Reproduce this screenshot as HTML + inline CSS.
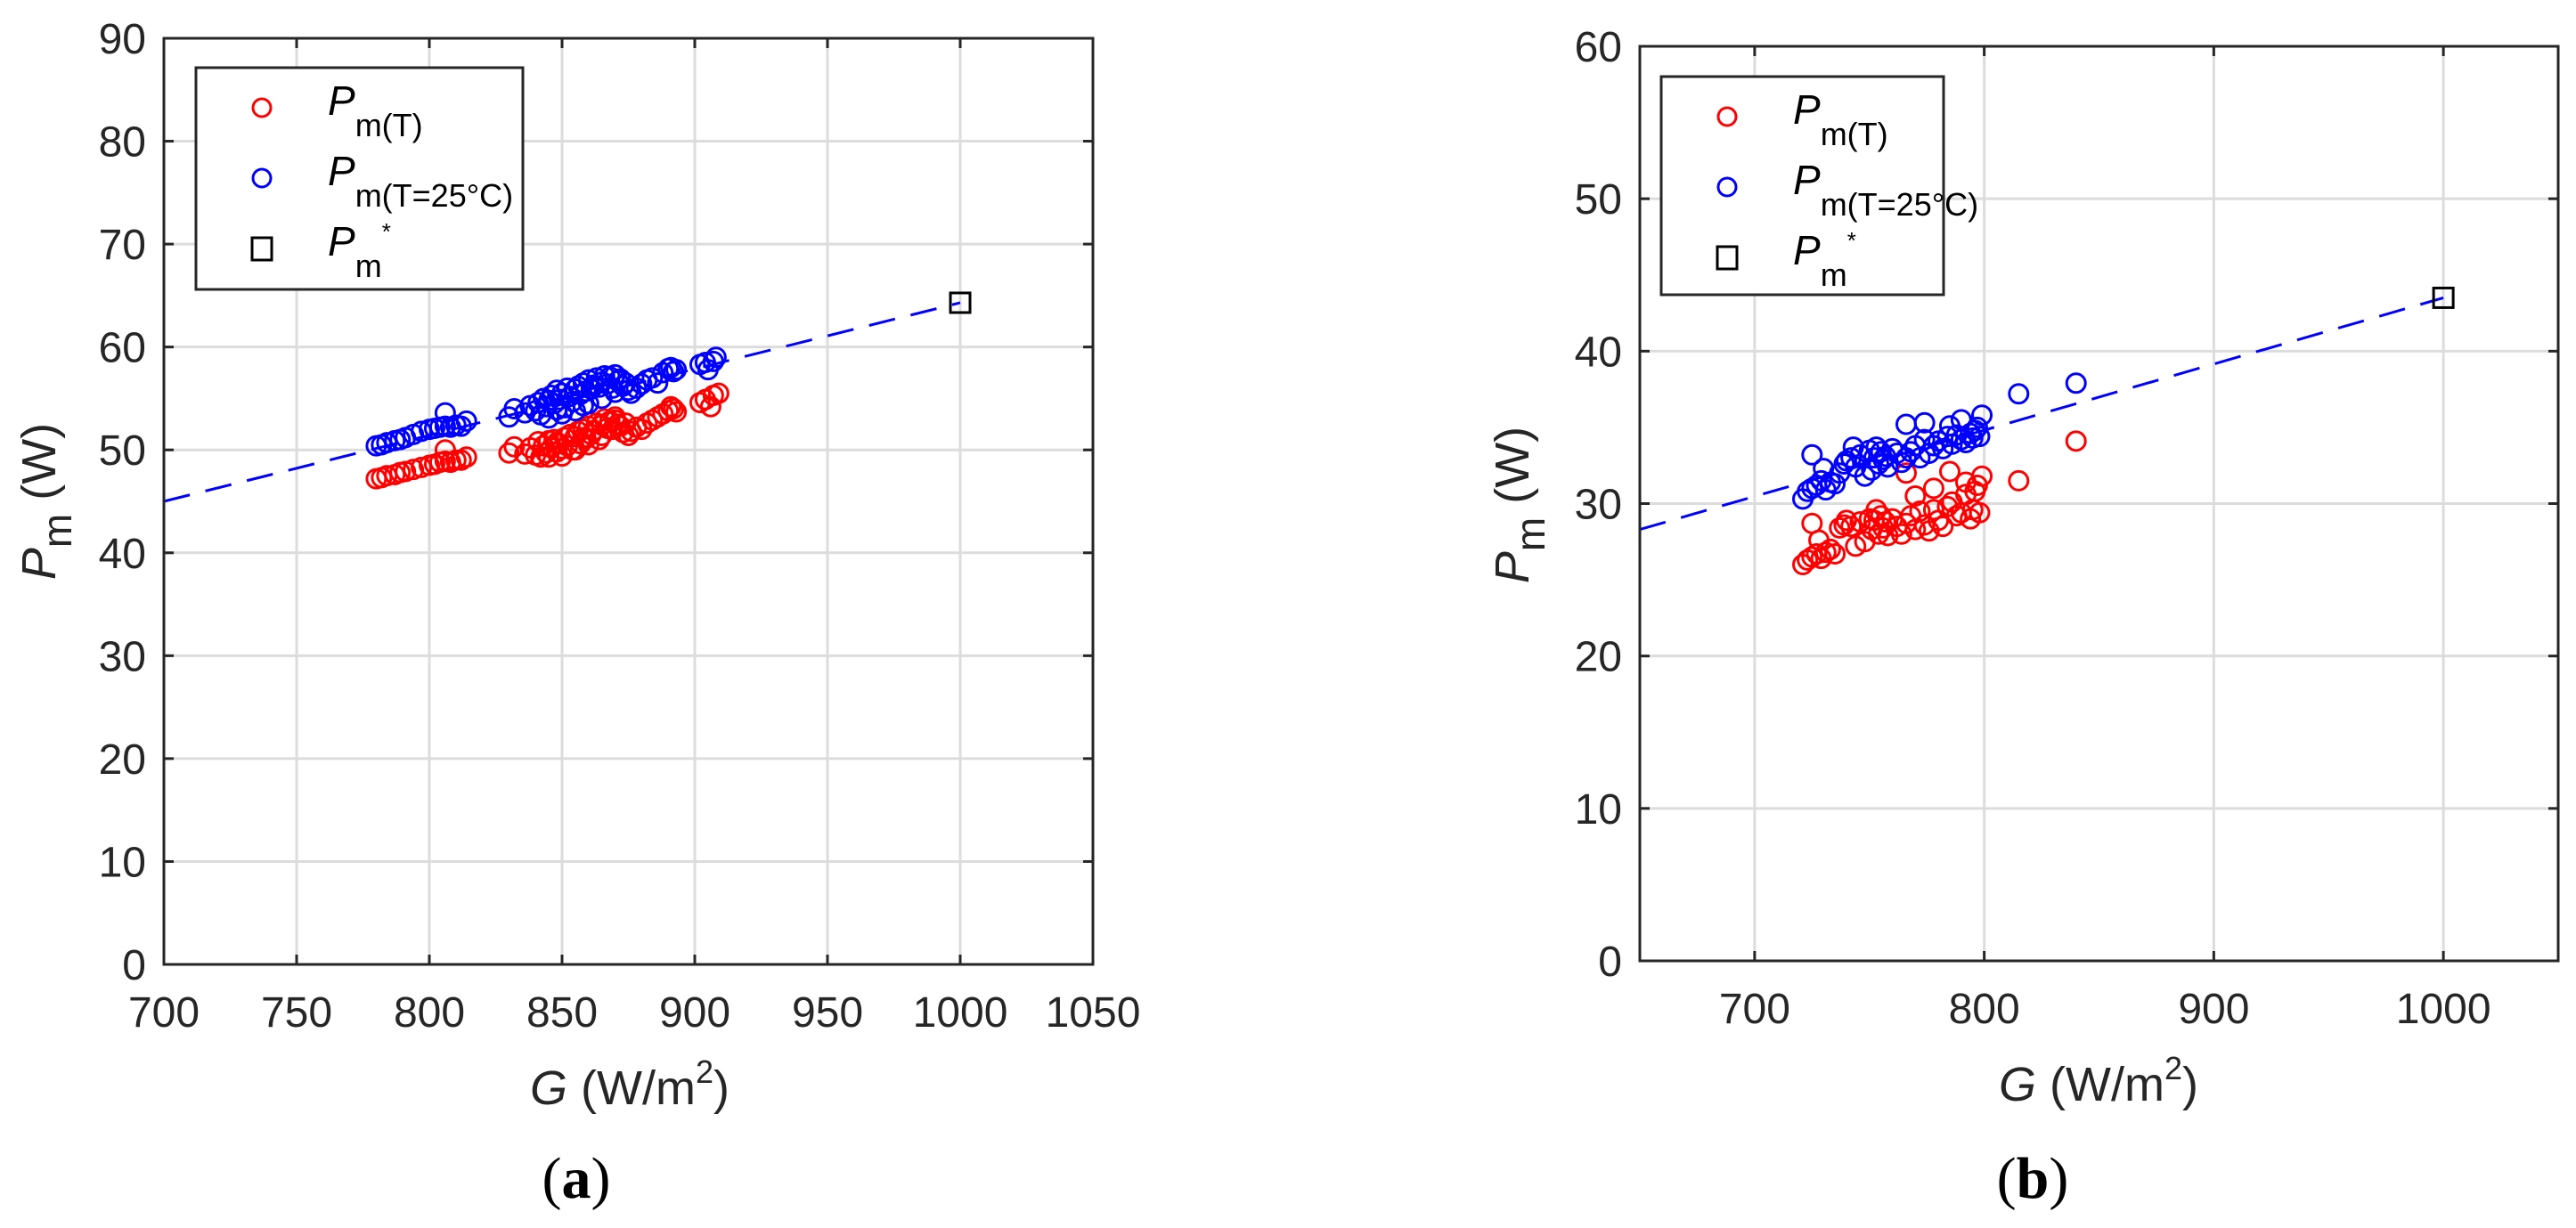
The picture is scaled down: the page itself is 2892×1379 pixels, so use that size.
<!DOCTYPE html>
<html><head><meta charset="utf-8"><style>
html,body{margin:0;padding:0;background:#fff;}
svg{display:block;font-family:"Liberation Sans",Arial,sans-serif;}
</style></head><body>
<svg id="fig" width="2892" height="1379" viewBox="0 0 2892 1379" xmlns="http://www.w3.org/2000/svg"></svg>
<script>
// Panel (a) data
const aXTicks = [700,750,800,850,900,950,1000,1050];
const aYTicks = [0,10,20,30,40,50,60,70,80,90];
const aRedG = [780,782,784,787,789,791,794,797,800,802,804,806,808,810,812,814,806,
830,832,836,838,840,841,842,843,844,845,846,847,848,849,850,851,852,853,854,855,856,857,858,859,860,861,862,863,864,865,866,867,868,869,870,871,872,873,874,875,876,878,880,882,884,886,888,890,891,892,893,850,855,860,845,865,870,848,858,
902,904,906,907,909];
const aRedP = [47.2,47.3,47.5,47.6,47.8,47.9,48.1,48.3,48.5,48.6,48.8,48.9,48.8,49.0,49.0,49.3,50.0,
49.7,50.3,49.6,50.2,49.5,50.8,49.3,50.4,49.7,50.9,50.2,51.0,49.8,50.6,50.1,51.2,50.4,51.5,50.0,51.3,51.8,50.6,52.0,51.1,52.3,51.5,51.9,52.6,51.0,52.4,53.0,52.1,52.8,52.0,53.2,52.5,52.3,51.7,52.6,51.4,51.8,52.2,52.0,52.6,52.9,53.2,53.5,53.8,54.2,54.0,53.7,49.4,50.0,50.5,49.3,51.4,52.9,50.7,51.2,
54.6,54.9,54.2,55.3,55.5];
const aBlueG = [780,782,784,787,789,791,794,797,800,802,804,806,808,810,812,814,806,
830,832,836,838,840,841,842,843,844,845,846,847,848,849,850,851,852,853,854,855,856,857,858,859,860,861,862,863,864,865,866,867,868,869,870,871,872,873,874,875,876,878,880,882,884,886,888,890,891,892,893,850,855,860,845,865,870,848,858,
902,904,905,907,908];
const aBlueP = [50.4,50.5,50.7,50.9,51.0,51.2,51.5,51.8,52.0,52.1,52.2,52.3,52.2,52.4,52.3,52.8,53.6,
53.2,54.0,53.6,54.3,53.8,54.6,53.4,55.0,54.2,54.8,55.3,54.5,55.8,54.9,55.5,54.1,56.0,55.2,54.7,55.9,56.2,55.4,56.5,55.7,56.8,55.9,56.3,57.0,56.1,56.6,57.2,56.4,57.1,56.0,57.3,56.7,56.9,56.2,56.5,55.8,55.5,56.0,56.4,56.8,57.0,56.5,57.5,57.9,58.0,57.6,57.8,53.5,53.8,54.5,53.1,55.0,55.6,53.9,54.3,
58.3,58.5,57.8,58.6,59.0];
const aStar = [1000, 64.3];
const aFit = [[700,45.0],[1000,64.3]];

// Panel (b) data
const bXTicks = [700,800,900,1000];
const bYTicks = [0,10,20,30,40,50,60];
const bBlueG = [721,723,725,727,729,731,733,735,737,739,740,742,744,746,748,750,751,752,753,754,755,756,757,758,760,762,764,766,768,770,772,774,776,778,780,782,784,786,788,790,792,794,795,796,797,798,799,725,730,743,766,774,785,790,815,840];
const bBlueP = [30.3,30.8,31.0,31.2,31.5,30.9,31.4,31.3,32.0,32.6,32.8,33.0,32.4,33.2,31.8,33.5,32.2,33.0,33.7,32.6,33.4,32.9,33.1,32.4,33.6,33.3,32.7,33.0,33.4,33.8,33.0,34.2,33.3,33.8,34.1,33.6,34.4,33.9,34.5,34.2,34.0,34.6,34.3,34.8,35.0,34.4,35.8,33.2,32.3,33.7,35.2,35.3,35.1,35.5,37.2,37.9];
const bRedG = [721,723,725,727,729,731,733,735,737,739,740,742,744,746,748,750,751,752,753,754,755,756,757,758,760,762,764,766,768,770,772,774,776,778,780,782,784,786,788,790,792,794,795,796,797,798,799,725,728,766,770,778,785,792,815,840];
const bRedP = [26.0,26.3,26.5,26.7,26.4,26.8,27.0,26.7,28.4,28.6,28.9,28.5,27.2,28.8,27.5,29.0,28.3,28.9,29.6,28.0,29.2,28.4,28.8,27.9,29.0,28.5,28.0,28.7,29.2,28.3,29.5,28.6,28.2,29.6,28.9,28.5,29.8,30.1,29.2,29.4,30.6,29.0,29.6,30.8,31.2,29.4,31.8,28.7,27.6,32.0,30.5,31.0,32.1,31.4,31.5,34.1];
const bStar = [1000, 43.5];
const bFit = [[650,28.3],[1000,43.5]];

const NS = "http://www.w3.org/2000/svg";
const svg = document.getElementById('fig');
function mk(tag, attrs, parent){
  const e = document.createElementNS(NS, tag);
  for (const k in attrs) e.setAttribute(k, attrs[k]);
  (parent||svg).appendChild(e);
  return e;
}

function panel(p){
  const g = mk('g', {});
  
  
  const sx = v => p.L + (v - p.xmin) / (p.xmax - p.xmin) * (p.R - p.L);
  const sy = v => p.B - (v - p.ymin) / (p.ymax - p.ymin) * (p.B - p.T);
  // grid
  p.xt.forEach(t => {
    const l = mk('line', {x1:sx(t), x2:sx(t), y1:p.T, y2:p.B, stroke:'#dcdcdc', 'stroke-width':3}, g);
    
    
  });
  p.yt.forEach(t => {
    const l = mk('line', {x1:p.L, x2:p.R, y1:sy(t), y2:sy(t), stroke:'#dcdcdc', 'stroke-width':3}, g);
    
    
  });
  // fit line
  const fl = mk('line', {x1:sx(p.fit[0][0]), y1:sy(p.fit[0][1]), x2:sx(p.fit[1][0]), y2:sy(p.fit[1][1]), stroke:'#0000ff', 'stroke-width':3, 'stroke-dasharray':'30 18'}, g);
  
  
  // series
  p.red[0].forEach((G,i) => {
    const c = mk('circle', {cx:sx(G), cy:sy(p.red[1][i]), r:10.5, fill:'none', stroke:'#ff0000', 'stroke-width':3}, g);
    
    
  });
  p.blue[0].forEach((G,i) => {
    const c = mk('circle', {cx:sx(G), cy:sy(p.blue[1][i]), r:10.5, fill:'none', stroke:'#0000ff', 'stroke-width':3}, g);
    
    
  });
  const sq = mk('rect', {x:sx(p.star[0])-11, y:sy(p.star[1])-11, width:22, height:22, fill:'none', stroke:'#000', 'stroke-width':3}, g);
  
  
  // axes box
  const box = mk('rect', {x:p.L, y:p.T, width:p.R-p.L, height:p.B-p.T, fill:'none', stroke:'#262626', 'stroke-width':3}, g);
  
  
  // ticks + labels
  p.xt.forEach(t => {
    mk('line', {x1:sx(t), x2:sx(t), y1:p.B, y2:p.B-11, stroke:'#262626', 'stroke-width':3}, g);
    mk('line', {x1:sx(t), x2:sx(t), y1:p.T, y2:p.T+11, stroke:'#262626', 'stroke-width':3}, g);
    const tx = mk('text', {x:sx(t), y:p.B+70, 'text-anchor':'middle', 'font-size':48, fill:'#262626'}, g);
    tx.textContent = t;
    
    
  });
  p.yt.forEach(t => {
    mk('line', {x1:p.L, x2:p.L+11, y1:sy(t), y2:sy(t), stroke:'#262626', 'stroke-width':3}, g);
    mk('line', {x1:p.R, x2:p.R-11, y1:sy(t), y2:sy(t), stroke:'#262626', 'stroke-width':3}, g);
    const tx = mk('text', {x:p.L-20, y:sy(t)+17, 'text-anchor':'end', 'font-size':48, fill:'#262626'}, g);
    tx.textContent = t;
    
    
  });
  // x title
  const xt = mk('text', {x:p.xtx, y:p.xty, 'text-anchor':'middle', 'font-size':54, fill:'#262626'}, g);
  xt.innerHTML = '<tspan font-style="italic">G</tspan> (W/m<tspan font-size="36" dy="-24">2</tspan><tspan dy="24">)</tspan>';
  
  
  // y title
  const yt = mk('text', {x:0, y:0, 'text-anchor':'middle', 'font-size':54, fill:'#262626', transform:'translate('+p.ytx+','+p.yty+') rotate(-90)'}, g);
  yt.innerHTML = '<tspan font-style="italic">P</tspan><tspan font-size="46" dy="18">m</tspan><tspan dy="-18"> (W)</tspan>';
  
  
  // panel label
  const pl = mk('text', {x:p.lx, y:1345, 'text-anchor':'middle', 'font-size':66, 'font-family':'"Liberation Serif",serif', fill:'#000'}, g);
  pl.innerHTML = '(<tspan font-weight="bold">' + p.lab + '</tspan>)';
  
  
  // legend
  const lg = mk('g', {}, g);
  
  
  mk('rect', {x:p.lgx, y:p.lgy, width:p.lgw, height:p.lgh, fill:'#fff', stroke:'#262626', 'stroke-width':3}, lg);
  const mx = p.lgx + 74, tx0 = p.lgx + 148;
  const rows = [p.lgy+45, p.lgy+124, p.lgy+203];
  mk('circle', {cx:mx, cy:rows[0], r:10, fill:'none', stroke:'#ff0000', 'stroke-width':3}, lg);
  mk('circle', {cx:mx, cy:rows[1], r:10, fill:'none', stroke:'#0000ff', 'stroke-width':3}, lg);
  mk('rect', {x:mx-11, y:rows[2]-12, width:22, height:25, fill:'none', stroke:'#000', 'stroke-width':3}, lg);
  const subs = ['m(T)','m(T=25°C)','m'];
  rows.forEach((y,i) => {
    const t = mk('text', {x:tx0, y:y+8, 'font-size':46, fill:'#000'}, lg);
    let html = '<tspan font-style="italic">P</tspan><tspan font-size="36" dy="24">' + subs[i] + '</tspan>';
    if (i === 2) html += '<tspan font-size="26" dy="-42">*</tspan>';
    t.innerHTML = html;
    
    
  });
}

panel({id:'a', L:184, R:1227, T:43, B:1083, xmin:700, xmax:1050, ymin:0, ymax:90,
  xt:aXTicks, yt:aYTicks, red:[aRedG,aRedP], blue:[aBlueG,aBlueP], star:aStar, fit:aFit,
  xtx:707, xty:1240, ytx:62, yty:563, lx:647, lab:'a', lgx:220, lgy:76, lgw:367, lgh:249});
panel({id:'b', L:1841, R:2872, T:52, B:1079, xmin:650, xmax:1050, ymin:0, ymax:60,
  xt:bXTicks, yt:bYTicks, red:[bRedG,bRedP], blue:[bBlueG,bBlueP], star:bStar, fit:bFit,
  xtx:2356, xty:1236, ytx:1716, yty:567, lx:2282, lab:'b', lgx:1865, lgy:86, lgw:317, lgh:245});
</script>
</body></html>
